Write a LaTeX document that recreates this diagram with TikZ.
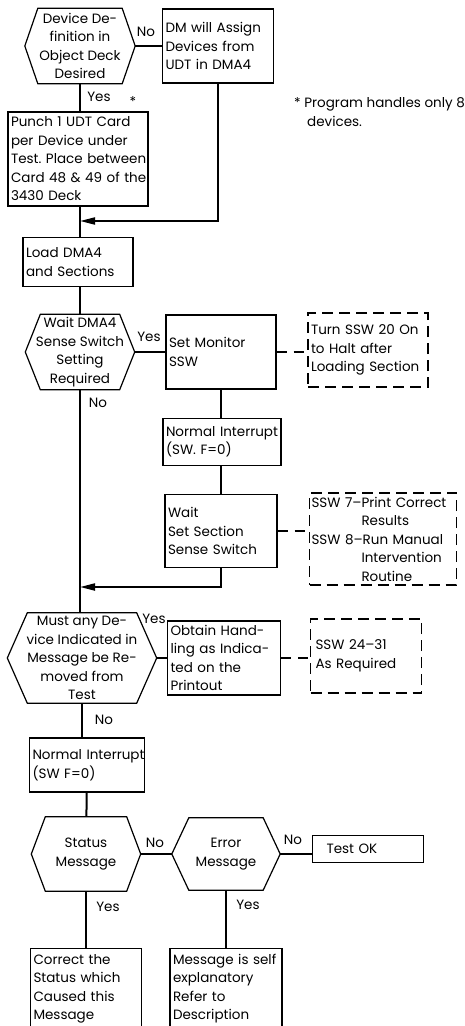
\documentclass[tikz,border=0pt]{standalone}
\usepackage{fontspec}
\setmainfont{Poppins}
\usetikzlibrary{arrows.meta}
\hyphenpenalty=10000

% six-sided decision frame round a node: name, inset
\newcommand{\hexframe}[2]{%
  \draw[line width=1.2pt] (#1.west) -- ([xshift=#2]#1.north west) -- ([xshift=-#2]#1.north east)
    -- (#1.east) -- ([xshift=-#2]#1.south east) -- ([xshift=#2]#1.south west) -- cycle;}

\begin{document}
\begin{tikzpicture}[x=1pt,y=-1pt,
    every node/.style={font=\fontsize{13.5}{18.5}\selectfont, inner sep=0pt},
    box/.style={draw, line width=1.2pt, align=left, inner xsep=3pt},
    dbox/.style={draw, line width=1.2pt, dash pattern=on 11pt off 6pt, align=left, inner xsep=3pt},
    hexa/.style={align=center},
    flow/.style={line width=2pt},
    dflow/.style={line width=2pt, dash pattern=on 10pt off 7pt},
    tip/.style={-{Triangle[length=15pt,width=7pt]}}]
  \useasboundingbox (0,0) rectangle (465,1026);

  % left column
  \node[hexa, minimum width=110pt, minimum height=75pt] (dev) at (80,46) {Device De-\\finition in\\Object Deck\\Desired};
  \node[box, text width=134pt, minimum height=94pt] (punch) at (78,159) {Punch~1~UDT~Card\\per~Device~under\\Test.~Place~between\\Card~48~\&~49~of~the\\3430 Deck};
  \node[box, text width=104pt, minimum height=49pt] (load) at (78,262) {Load DMA4\\and~Sections};
  \node[hexa, minimum width=109pt, minimum height=75pt] (sense) at (80,352) {Wait DMA4\\Sense Switch\\Setting\\Required};
  \node[hexa, minimum width=149pt, minimum height=90pt] (remove) at (82,658) {Must any De-\\vice Indicated in\\Message be Re-\\moved from\\Test};
  \node[box, text width=109pt, minimum height=54pt] (intrb) at (87,765) {Normal~Interrupt\\(SW F=0)};
  \node[hexa, minimum width=109pt, minimum height=74pt] (status) at (86,854) {Status\\Message};
  \node[box, text width=105pt, minimum height=80pt, anchor=north] (correct) at (86,948) {Correct~the\\Status~which\\Caused~this\\Message};

  % middle column
  \node[box, text width=105pt, minimum height=74pt] (dm) at (218,46) {DM~will~Assign\\Devices~from\\UDT~in~DMA4};
  \node[box, text width=104pt, minimum height=74pt] (monitor) at (221,352) {Set Monitor\\SSW};
  \node[box, text width=112pt, minimum height=47pt] (intr) at (222,442) {Normal~Interrupt\\(SW. F=0)};
  \node[box, text width=106pt, minimum height=73pt] (setsec) at (221,531) {Wait\\Set~Section\\Sense~Switch};
  \node[box, text width=107pt, minimum height=74pt] (obtain) at (224,658) {Obtain~Hand-\\ling~as~Indica-\\ted~on~the\\Printout};
  \node[hexa, minimum width=108pt, minimum height=72pt] (error) at (226,854) {Error\\Message};
  \node[box, text width=106pt, minimum height=80pt, anchor=north] (selfexp) at (226,948) {Message~is~self\\explanatory\\Refer~to\\Description};

  % right column
  \node[anchor=west, align=left] (note) at (294,112) {* Program handles only 8\\\hspace*{13pt}devices.};
  \node[dbox, text width=114pt, minimum height=74pt] (halt) at (368,350) {Turn~SSW~20~On\\to~Halt~after\\Loading~Section};
  \node[dbox, text width=143pt, minimum height=92pt, inner xsep=2pt] (results) at (383,539) {SSW~7–Print~Correct\\\hspace*{50pt}Results\\SSW~8–Run~Manual\\\hspace*{50pt}Intervention\\\hspace*{50pt}Routine};
  \node[dbox, text width=101pt, minimum height=74pt, inner xsep=5pt] (ssw) at (366,656) {SSW~24–31\\As~Required};
  \node[box, text width=83pt, minimum height=27pt, inner xsep=14pt] (ok) at (368,849) {Test~OK};

  \hexframe{dev}{13pt}
  \hexframe{sense}{15pt}
  \hexframe{remove}{20pt}
  \hexframe{status}{14pt}
  \hexframe{error}{17pt}

  % labels
  \node (no1) at (146,32) {No};
  \node (yes1) at (99,97) {Yes};
  \node (star) at (133,102) {*};
  \node (yes2) at (149,337) {Yes};
  \node (no2) at (98,403) {No};
  \node (yes3) at (154,619) {Yes};
  \node (no3) at (104,720) {No};
  \node (no4) at (155,843) {No};
  \node (no5) at (293,840) {No};
  \node (yes4) at (108,907) {Yes};
  \node (yes5) at (248,905) {Yes};

  \coordinate (join1) at (80,221);
  \coordinate (join2) at (80,587);

  % connectors
  \draw[flow] (dev) -- (dm);
  \draw[flow] (dev.south) -- (dev.south |- punch.north);
  \draw[flow, tip] (dm.south) |- (join1);
  \draw[flow] (dev.south |- punch.south) -- (dev.south |- load.north);
  \draw[flow] (dev.south |- load.south) -- (sense.north);
  \draw[flow] (sense) -- (monitor);
  \draw[dflow] (monitor.east) -- (monitor.east -| halt.west);
  \draw[flow] (monitor.south) -- (monitor.south |- intr.north);
  \draw[flow] (monitor.south |- intr.south) -- (monitor.south |- setsec.north);
  \draw[dflow] (setsec.east) -- (setsec.east -| results.west);
  \draw[flow, tip] (setsec.south) |- (join2);
  \draw[flow] (sense.south) -- (sense.south |- remove.north);
  \draw[flow] (remove.east) -- (remove.east -| obtain.west);
  \draw[dflow] (obtain.east) -- (obtain.east -| ssw.west);
  \draw[flow] (remove.south) -- (remove.south |- intrb.north);
  \draw[flow] (intrb) -- (status);
  \draw[flow] (status) -- (error);
  \draw[flow] (error.east) -- (error.east -| ok.west);
  \draw[flow] (status) -- (correct);
  \draw[flow] (error) -- (selfexp);
\end{tikzpicture}
\end{document}
